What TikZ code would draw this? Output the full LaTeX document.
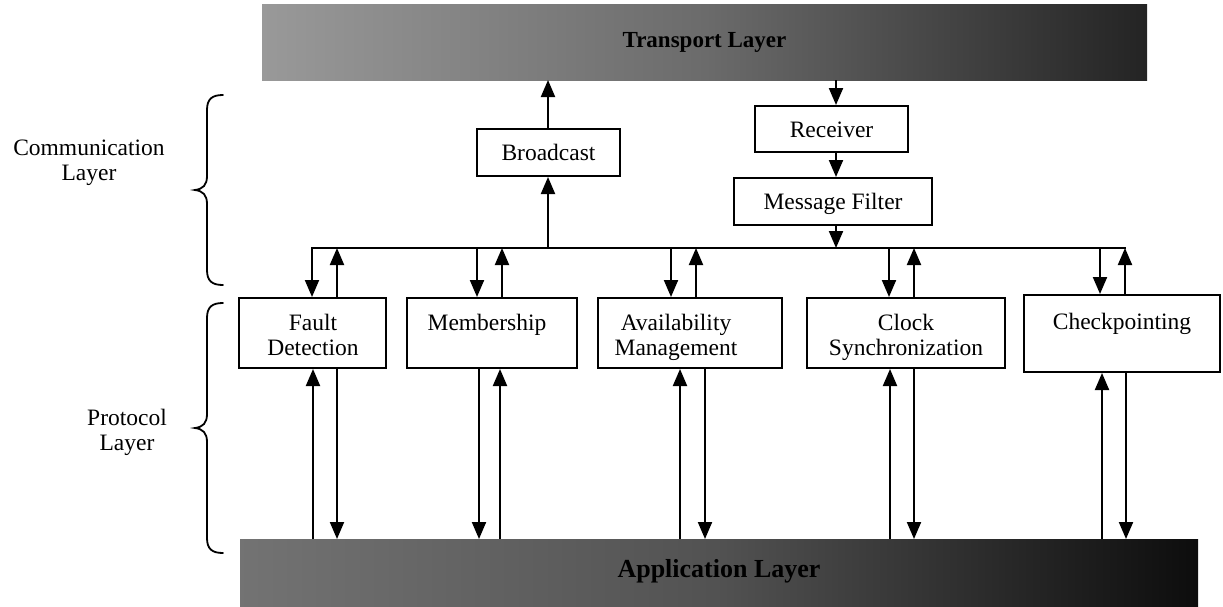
\documentclass[tikz,border=0pt]{standalone}
\usepackage{fontspec}
\setmainfont{Liberation Serif}
\usetikzlibrary{arrows.meta}
\newcommand{\boxfont}{\fontsize{23.5}{25.5}\selectfont}
\newcommand{\tlfont}{\fontsize{23}{27}\selectfont\bfseries}
\newcommand{\alfont}{\fontsize{26}{30}\selectfont\bfseries}

\begin{document}
\begin{tikzpicture}[x=1pt,y=-1pt,
  frame/.style={draw=black, line width=2pt, fill=white, rectangle, inner sep=0pt},
  smallbox/.style={frame, font=\boxfont, text height=16pt, text depth=0pt, minimum height=47pt},
  protobox/.style={frame, minimum height=70pt},
  lbl/.style={anchor=north, inner sep=0pt, align=center, font=\boxfont},
  arr/.style={line width=2pt, -{Triangle[width=14pt,length=17pt]}},
  wire/.style={line width=2pt, line cap=rect},
  brace/.style={line width=1.8pt, line cap=round},
  bar/.style={rectangle, inner sep=0pt, outer sep=0pt, text height=16pt, text depth=6pt}
]
\useasboundingbox (0,0) rectangle (1223,606);

% layer bars
\node[bar, minimum width=885pt, minimum height=76pt, font=\tlfont,
      left color=black!40, right color=black!86, middle color=black!58]
      (tl) at (704.5,42) {Transport Layer};
\node[bar, minimum width=958pt, minimum height=67pt, font=\alfont,
      left color=black!55, right color=black!95, middle color=black!68]
      (al) at (719,572.5) {Application Layer};

% communication layer
\node[smallbox, minimum width=143pt] (bc) at (548.5,152.5) {Broadcast};
\node[smallbox, minimum width=153pt, minimum height=46pt] (rcv) at (831.5,129) {Receiver};
\node[smallbox, minimum width=198pt] (mf) at (833,201.5) {Message Filter};

% protocol layer
\node[protobox, minimum width=147pt] (fd)  at (312.5,333) {};
\node[protobox, minimum width=170pt] (mem) at (492,333) {};
\node[protobox, minimum width=184pt] (av)  at (690,333) {};
\node[protobox, minimum width=198pt] (cs)  at (906,333) {};
\node[protobox, minimum width=196pt, minimum height=77pt] (cp) at (1122,333.5) {};

\node[lbl] (fdT)  at (313,312)  {\strut Fault\\\strut Detection};
\node[lbl] (memT) at (487,312)  {\strut Membership};
\node[lbl] (avT)  at (676,312)  {\strut Availability\\\strut Management};
\node[lbl] (csT)  at (906,312)  {\strut Clock\\\strut Synchronization};
\node[lbl] (cpT)  at (1122,311) {\strut Checkpointing};

% side labels and braces
\node[lbl] (comm) at (89,137)  {\strut Communication\\\strut Layer};
\node[lbl] (prot) at (127,407) {\strut Protocol\\\strut Layer};

\draw[brace] (223,95) .. controls (212,95) and (207,99) .. (207,110) -- (207,176)
  .. controls (207,185) and (203,189) .. (195,190)
  .. controls (203,191) and (207,195) .. (207,204) -- (207,270)
  .. controls (207,281) and (212,285) .. (223,285);
\draw[brace] (223,303) .. controls (212,303) and (207,307) .. (207,318) -- (207,414)
  .. controls (207,423) and (203,427) .. (195,428)
  .. controls (203,429) and (207,433) .. (207,442) -- (207,538)
  .. controls (207,549) and (212,553) .. (223,553);

% bus between the two layers
\coordinate (busL) at (312,248);
\coordinate (busR) at (1125,248);
\draw[wire] (busL) -- (busR);

% transport side
\coordinate (bx) at (548,248);
\draw[arr] (bx) -- (bx |- bc.south);
\draw[arr] (bx |- bc.north) -- (bx |- tl.south);
\coordinate (rx) at (836,248);
\draw[arr] (rx |- tl.south) -- (rx |- rcv.north);
\draw[arr] (rx |- rcv.south) -- (rx |- mf.north);
\draw[arr] (rx |- mf.south) -- (rx);

% bus taps: down into each protocol, up out of each protocol
\coordinate (d1) at (312,248);  \coordinate (u1) at (337,248);
\coordinate (d2) at (477,248);  \coordinate (u2) at (502,248);
\coordinate (d3) at (671,248);  \coordinate (u3) at (696,248);
\coordinate (d4) at (889,248);  \coordinate (u4) at (914,248);
\coordinate (d5) at (1100,248); \coordinate (u5) at (1125,248);
\draw[arr] (d1) -- (d1 |- fd.north);  \draw[arr] (u1 |- fd.north)  -- (u1);
\draw[arr] (d2) -- (d2 |- mem.north); \draw[arr] (u2 |- mem.north) -- (u2);
\draw[arr] (d3) -- (d3 |- av.north);  \draw[arr] (u3 |- av.north)  -- (u3);
\draw[arr] (d4) -- (d4 |- cs.north);  \draw[arr] (u4 |- cs.north)  -- (u4);
\draw[arr] (d5) -- (d5 |- cp.north);  \draw[arr] (u5 |- cp.north)  -- (u5);

% application side
\coordinate (a1) at (313,0);  \coordinate (b1) at (337,0);
\coordinate (a2) at (500,0);  \coordinate (b2) at (479,0);
\coordinate (a3) at (680,0);  \coordinate (b3) at (705,0);
\coordinate (a4) at (890,0);  \coordinate (b4) at (914,0);
\coordinate (a5) at (1102,0); \coordinate (b5) at (1126,0);
\draw[arr] (a1 |- al.north) -- (a1 |- fd.south);  \draw[arr] (b1 |- fd.south)  -- (b1 |- al.north);
\draw[arr] (a2 |- al.north) -- (a2 |- mem.south); \draw[arr] (b2 |- mem.south) -- (b2 |- al.north);
\draw[arr] (a3 |- al.north) -- (a3 |- av.south);  \draw[arr] (b3 |- av.south)  -- (b3 |- al.north);
\draw[arr] (a4 |- al.north) -- (a4 |- cs.south);  \draw[arr] (b4 |- cs.south)  -- (b4 |- al.north);
\draw[arr] (a5 |- al.north) -- (a5 |- cp.south);  \draw[arr] (b5 |- cp.south)  -- (b5 |- al.north);
\end{tikzpicture}
\end{document}
